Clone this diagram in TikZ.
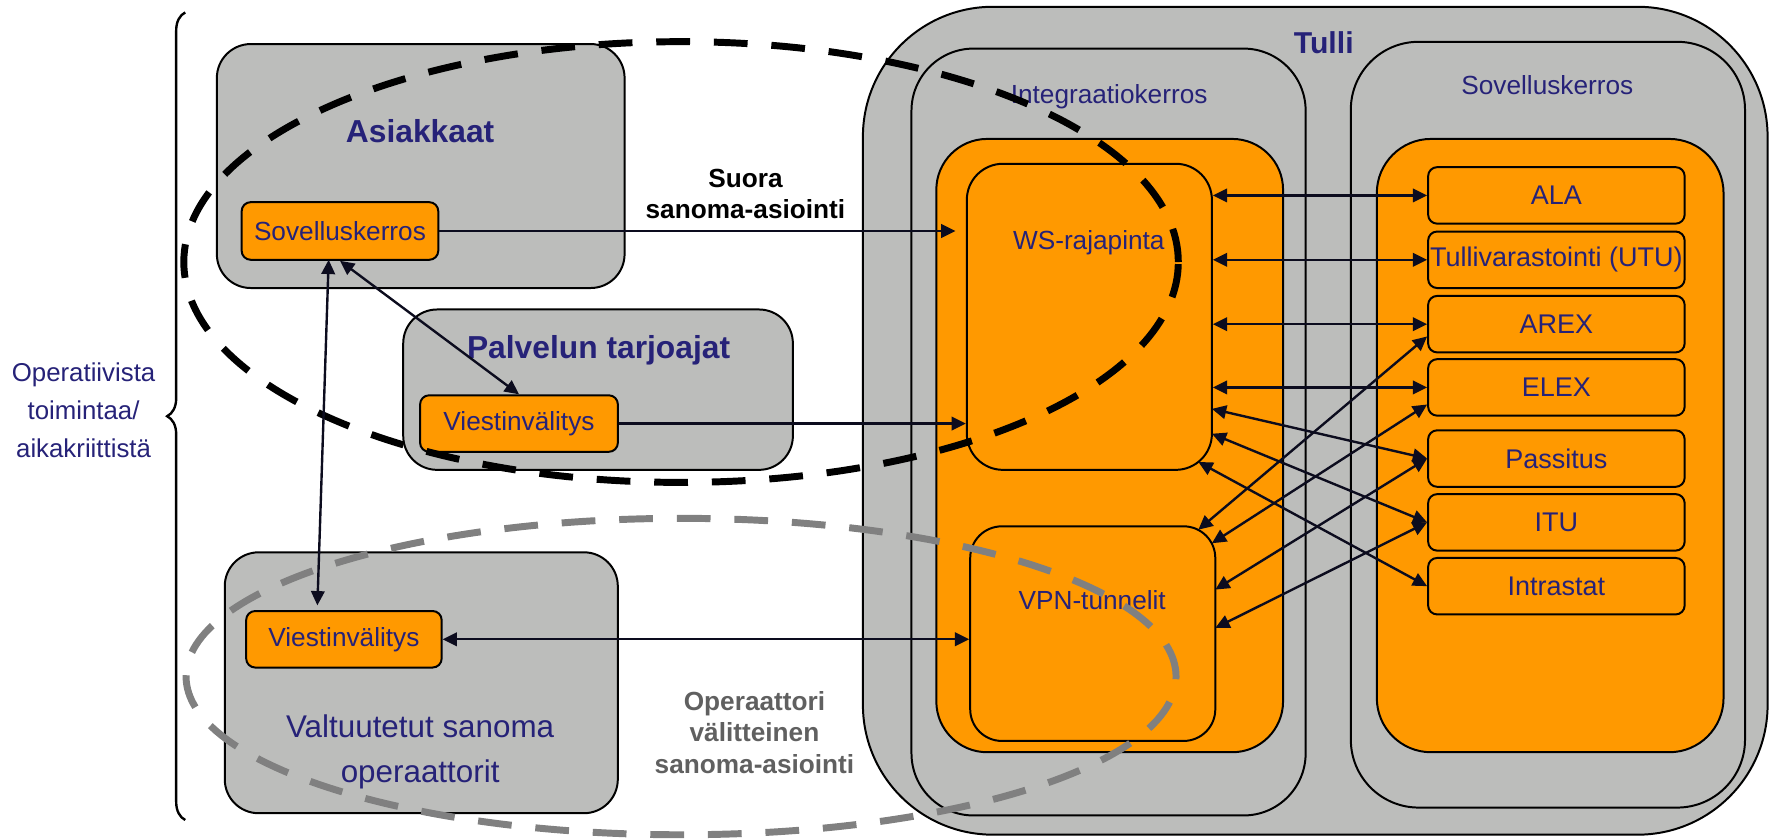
\documentclass[tikz,border=0pt]{standalone}
\usepackage{fontspec}
\setmainfont{Liberation Sans}
\usetikzlibrary{arrows.meta, positioning, fit, decorations.pathreplacing}

\definecolor{boxgray}{RGB}{188,189,187}
\definecolor{boxorange}{RGB}{255,153,0}
\definecolor{navytext}{RGB}{38,34,120}
\definecolor{arrowink}{RGB}{12,12,30}
\definecolor{dashgray}{RGB}{128,128,128}
\definecolor{notegray}{RGB}{96,96,96}

\tikzset{
  >={Triangle[length=3.6pt,width=3.4pt]},
  graybox/.style={draw=black, line width=0.5pt, fill=boxgray, inner sep=0pt},
  orangebox/.style={draw=black, line width=0.5pt, fill=boxorange, inner sep=0pt},
  smallbox/.style={orangebox, rounded corners=0.08cm, minimum height=0.5cm, text=navytext, font=\fontsize{6.6}{8}\selectfont},
  appbox/.style={orangebox, rounded corners=0.08cm, minimum width=2.27cm, minimum height=0.5cm, text=navytext, font=\fontsize{6.8}{8}\selectfont},
  title/.style={text=navytext, font=\bfseries\fontsize{8}{10}\selectfont},
  layer/.style={text=navytext, font=\fontsize{6.6}{8}\selectfont},
  link/.style={arrowink, line width=0.6pt, ->},
  twolink/.style={arrowink, line width=0.6pt, <->},
  zone/.style={line width=1.75pt, dash pattern=on 8.5pt off 6pt},
}

\begin{document}
\begin{tikzpicture}[x=0.01cm, y=-0.01cm]
\useasboundingbox (0,0) rectangle (1568,742);

%tulli
\node (tulli) [graybox, rounded corners=1.15cm, fit={(764,6) (1565,739)}] {};
\node (integ) [graybox, rounded corners=0.55cm, fit={(807,43) (1156,722)}] {};
\node (sovR) [graybox, rounded corners=0.6cm, fit={(1196,37) (1545,715)}] {};
\node (integcore) [orangebox, rounded corners=0.45cm, fit={(829,123) (1136,666)}] {};
\node (sovRcore) [orangebox, rounded corners=0.48cm, fit={(1219,123) (1526,666)}] {};
\node (ws) [orangebox, rounded corners=0.32cm, fit={(856,145) (1073,416)}] {};
\node (vpn) [orangebox, rounded corners=0.28cm, fit={(859,466) (1076,656)}] {};

%apps
\foreach \nm/\txt/\y in {ala/ALA/173, utu/Tullivarastointi (UTU)/230, arex/AREX/287, elex/ELEX/343, pass/Passitus/406, itu/ITU/462.5, intra/Intrastat/519}
  \node (\nm) [appbox] at (1378,\y) {\txt};

%customers
\node (asiak) [graybox, rounded corners=0.3cm, fit={(192,39) (553,255)}] {};
\node (palv) [graybox, rounded corners=0.3cm, fit={(357,274) (702,416)}] {};
\node (valt) [graybox, rounded corners=0.3cm, fit={(199,489) (547,720)}] {};
\node (sovA) [smallbox, minimum width=1.74cm, minimum height=0.51cm] at (301,204.5) {Sovelluskerros};
\node (viestP) [smallbox, minimum width=1.75cm] at (459.5,375) {Viestinvälitys};
\node (viestV) [smallbox, minimum width=1.73cm] at (304.5,566) {Viestinvälitys};

%labels
\node (asiakT) [title, anchor=base] at (372,126.5) {Asiakkaat};
\node (palvT) [title, anchor=base] at (530,317) {Palvelun tarjoajat};
\node (valtT) [layer, align=center, font=\fontsize{7.9}{11.4}\selectfont] at (372,666) {Valtuutetut sanoma\\operaattorit};
\node (tulliT) [title, anchor=base, font=\bfseries\fontsize{7.6}{9}\selectfont] at (1172,47) {Tulli};
\node (integT) [layer, anchor=base] at (982,91.5) {Integraatiokerros};
\node (sovRT) [layer, anchor=base] at (1370,84) {Sovelluskerros};
\node (wsT) [layer, anchor=base] at (964,221) {WS-rajapinta};
\node (vpnT) [layer, anchor=base] at (967,540) {VPN-tunnelit};
\node (crit) [layer, align=center, font=\fontsize{6.5}{9.6}\selectfont] at (74,363) {Operatiivista\\toimintaa/\\aikakriittistä};
\node (direct) [align=center, font=\bfseries\fontsize{6.6}{7.7}\selectfont] at (660,171.5) {Suora\\sanoma-asiointi};
\node (viaop) [align=center, text=notegray, font=\bfseries\fontsize{6.6}{8}\selectfont] at (668,648.5) {Operaattori\\välitteinen\\sanoma-asiointi};

%brace
\draw[line width=0.6pt, decorate, decoration={brace, amplitude=0.16cm}] (164,726) -- (164,11);

%zones
\draw[zone] (603,232) ellipse [x radius=4.4cm, y radius=1.95cm];
\draw[zone, dashgray] (603,599) ellipse [x radius=4.38cm, y radius=1.4cm];

%links
\draw[link, shorten >=2.6pt] (sovA.east) -- (sovA.east -| ws.west);
\draw[link] (viestP.east) -- (viestP.east -| ws.west);
\draw[twolink] (viestV.east) -- (viestV.east -| vpn.west);
\draw[twolink] (sovA.south) -- (viestP.north);
\coordinate (sovAfoot) at (291,230);
\coordinate (viestVhead) at (281,536);
\draw[twolink] (sovAfoot) -- (viestVhead);

\foreach \nm in {ala, utu, arex, elex}
  \draw[twolink] (ws.east |- \nm.west) -- (\nm.west);

\coordinate (wsA) at (1073,362);
\coordinate (wsB) at (1073,384);
\coordinate (wsC) at (1061,409);
\coordinate (vpnA) at (1061,469);
\coordinate (vpnB) at (1073,481);
\coordinate (vpnC) at (1076,522);
\coordinate (vpnD) at (1076,556);
\draw[twolink] (wsA) -- (pass.west);
\draw[twolink] (wsB) -- (itu.west);
\draw[twolink] (wsC) -- (intra.west);
\draw[twolink] (vpnA) -- ([yshift=-3.1pt]arex.west);
\draw[twolink] (vpnB) -- ([yshift=-4.3pt]elex.west);
\draw[twolink] (vpnC) -- (pass.west);
\draw[twolink] (vpnD) -- (itu.west);

\end{tikzpicture}
\end{document}
